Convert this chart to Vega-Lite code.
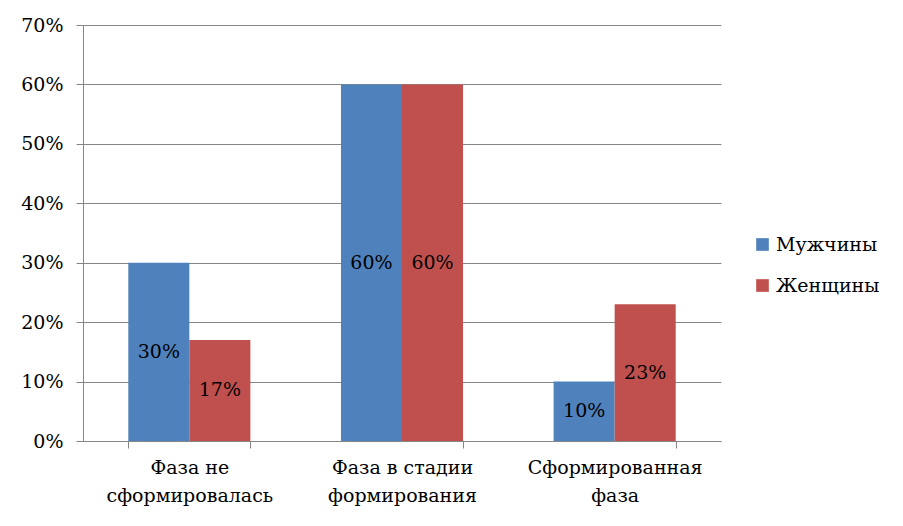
{
  "$schema": "https://vega.github.io/schema/vega-lite/v6.json",
  "width": 638,
  "height": 416,
  "autosize": {"type": "none"},
  "padding": {"left": 83, "top": 25, "right": 182, "bottom": 85},
  "background": "white",
  "config": {
    "view": {"stroke": null},
    "font": "DejaVu Serif",
    "axis": {
      "labelFont": "DejaVu Serif",
      "labelFontSize": 19,
      "labelColor": "black",
      "domainColor": "#868686",
      "tickColor": "#868686",
      "gridColor": "#868686",
      "tickSize": 7,
      "title": null
    },
    "legend": {"labelFont": "DejaVu Serif", "labelFontSize": 19, "labelColor": "black"},
    "text": {"font": "DejaVu Serif"}
  },
  "data": {
    "values": [
      {"cat": "Фаза не|сформировалась", "sex": "Мужчины", "value": 0.30},
      {"cat": "Фаза не|сформировалась", "sex": "Женщины", "value": 0.17},
      {"cat": "Фаза в стадии|формирования", "sex": "Мужчины", "value": 0.60},
      {"cat": "Фаза в стадии|формирования", "sex": "Женщины", "value": 0.60},
      {"cat": "Сформированная|фаза", "sex": "Мужчины", "value": 0.10},
      {"cat": "Сформированная|фаза", "sex": "Женщины", "value": 0.23}
    ]
  },
  "encoding": {
    "x": {
      "field": "cat",
      "type": "nominal",
      "sort": null,
      "scale": {"paddingInner": 0.426, "paddingOuter": 0.213},
      "axis": {
        "labelAngle": 0,
        "labelExpr": "split(datum.label, '|')",
        "labelLineHeight": 28,
        "labelPadding": 10,
        "tickBand": "extent",
        "grid": false,
        "labelBaseline": "top"
      }
    },
    "xOffset": {
      "field": "sex",
      "type": "nominal",
      "sort": ["Мужчины", "Женщины"],
      "scale": {"paddingInner": 0, "paddingOuter": 0}
    }
  },
  "layer": [
    {
      "mark": {"type": "bar"},
      "encoding": {
        "y": {
          "field": "value",
          "type": "quantitative",
          "scale": {"domain": [0, 0.7], "nice": false},
          "axis": {"format": ".0%", "values": [0, 0.1, 0.2, 0.3, 0.4, 0.5, 0.6, 0.7], "grid": true, "labelPadding": 13}
        },
        "color": {
          "field": "sex",
          "type": "nominal",
          "sort": ["Мужчины", "Женщины"],
          "scale": {"domain": ["Мужчины", "Женщины"], "range": ["#4F81BD", "#C0504D"]},
          "legend": {
            "title": null,
            "orient": "none",
            "legendX": 670,
            "legendY": 210,
            "symbolType": "square",
            "symbolSize": 160,
            "symbolStrokeWidth": 0,
            "rowPadding": 21,
            "labelOffset": 4
          }
        }
      }
    },
    {
      "mark": {"type": "text", "fontSize": 19, "color": "black", "baseline": "middle", "font": "DejaVu Serif", "dy": {"expr": "(height - scale('y', datum.value)) / 2"}},
      "encoding": {
        "y": {"field": "value", "type": "quantitative"},
        "text": {"field": "value", "type": "quantitative", "format": ".0%"}
      }
    }
  ]
}
